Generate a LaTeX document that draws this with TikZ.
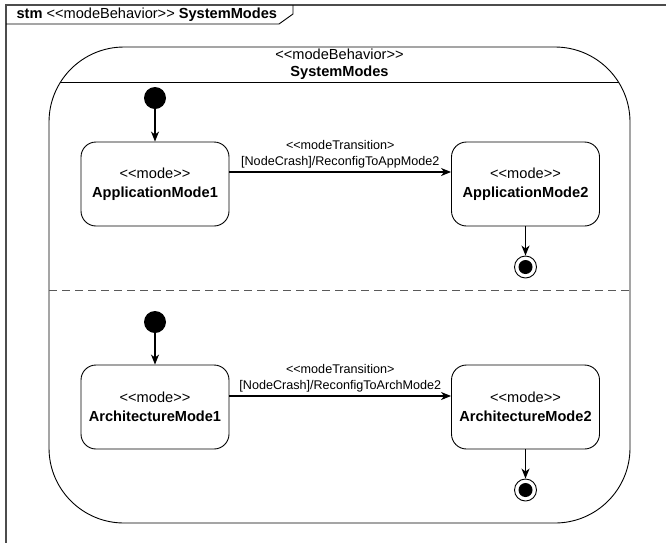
\documentclass[tikz,border=0pt]{standalone}
\usepackage{fontspec}
\setmainfont{Liberation Sans}
\usetikzlibrary{arrows.meta}
\newcommand{\stL}{<\kern0pt<}
\newcommand{\stR}{>\kern0pt>}

\begin{document}
\begin{tikzpicture}[x=1pt,y=-1pt]
	\tikzset{ModeStyle/.style = {draw, rounded corners=15pt, minimum width=148pt, minimum height=84pt,
			align=center, font=\fontsize{14.6}{19}\selectfont, line width=0.9pt}}
	\tikzset{InitStyle/.style = {circle, fill=black, minimum size=22pt, inner sep=0pt}}
	\tikzset{FinalStyle/.style = {circle, draw, line width=0.9pt, minimum size=22pt, inner sep=0pt,
			path picture={\fill[black] (path picture bounding box.center) circle (7pt);}}}
	\tikzset{EdgeStyle/.style = {-{Stealth[length=10pt,width=8pt,inset=3pt]}, line width=1.1pt}}
	\tikzset{LabelStyle/.style = {above, align=center, font=\fontsize{12.6}{16}\selectfont, inner sep=3pt}}
	\useasboundingbox (0,0) rectangle (666,542);
	
	% Rahmen
	\draw[gray!60!black, line width=1.3pt] (6,560) -- (6,5) -- (680,5);
	\draw[line width=0.9pt] (6,24) -- (279,24) -- (293,14) -- (293,5);
	\node[anchor=west, font=\fontsize{14.6}{17}\selectfont] (tab) at (13,14.5)
		{\textbf{stm} \stL modeBehavior\stR{} \textbf{SystemModes}};
	
	% Zustand
	\draw[line width=0.9pt, rounded corners=75pt] (49,47) rectangle (630,523);
	\begin{scope}
		\clip[rounded corners=75pt] (49,47) rectangle (630,523);
		\draw[line width=0.9pt] (0,82) -- (666,82);
		\draw[gray!70!black, line width=1pt, dash pattern=on 8pt off 5pt] (49,290) -- (666,290);
	\end{scope}
	\node[align=center, font=\fontsize{14.6}{17}\selectfont] (title) at (339.5,64.5)
		{\stL modeBehavior\stR\\\textbf{SystemModes}};
	
	% Knoten
	\node[InitStyle] (init1) at (155,98) {};
	\node[ModeStyle] (app1) at (155,184) {\stL mode\stR\\\textbf{ApplicationMode1}};
	\node[ModeStyle] (app2) at (525.5,184) {\stL mode\stR\\\textbf{ApplicationMode2}};
	\node[FinalStyle] (fin1) at (525.5,267) {};
	
	\node[InitStyle] (init2) at (155,322) {};
	\node[ModeStyle] (arch1) at (155,407) {\stL mode\stR\\\textbf{ArchitectureMode1}};
	\node[ModeStyle] (arch2) at (525.5,407) {\stL mode\stR\\\textbf{ArchitectureMode2}};
	\node[FinalStyle] (fin2) at (525.5,490) {};
	
	% Kanten
	\draw[EdgeStyle] (init1) -- (app1);
	\draw[EdgeStyle] ([yshift=12pt]app1.east) -- node[LabelStyle]
		{\stL modeTransition>\\{[NodeCrash]/ReconfigToAppMode2}} ([yshift=12pt]app2.west);
	\draw[EdgeStyle] (app2) -- (fin1);
	
	\draw[EdgeStyle] (init2) -- (arch1);
	\draw[EdgeStyle] ([yshift=11pt]arch1.east) -- node[LabelStyle]
		{\stL modeTransition>\\{[NodeCrash]/ReconfigToArchMode2}} ([yshift=11pt]arch2.west);
	\draw[EdgeStyle] (arch2) -- (fin2);
\end{tikzpicture}
\end{document}
